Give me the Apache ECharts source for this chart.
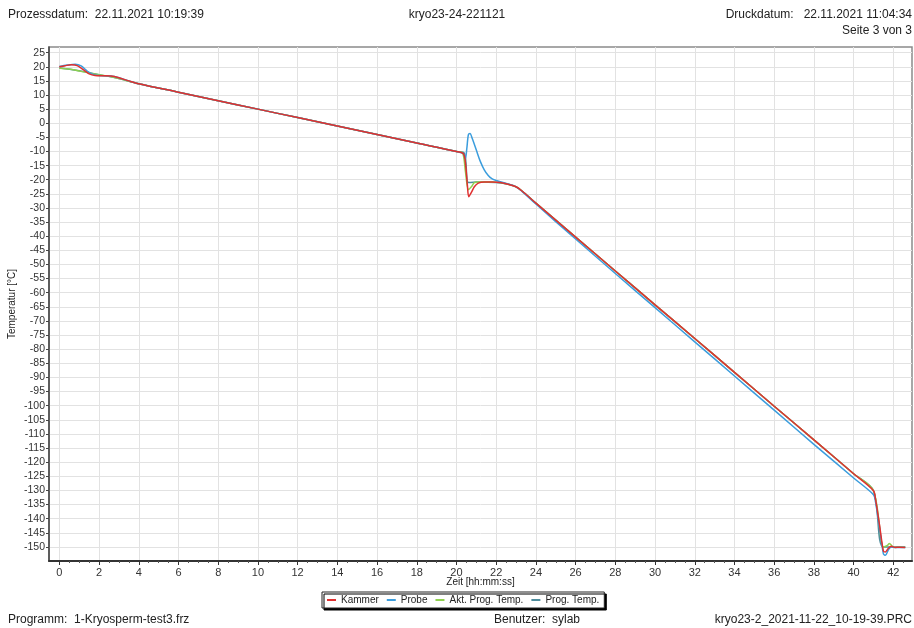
<!DOCTYPE html>
<html>
<head>
<meta charset="utf-8">
<script src="https://cdn.jsdelivr.net/npm/echarts@6/dist/echarts.min.js"></script>
<style>
  html, body { margin: 0; padding: 0; background: #fff; }
  #chart { width: 914px; height: 628px; }
</style>
</head>
<body>
<div id="chart"></div>
<script>
// Freezing protocol kryo23-24-221121: chamber, sample and program temperatures over time

const xTicks = [0, 2, 4, 6, 8, 10, 12, 14, 16, 18, 20, 22, 24, 26, 28, 30, 32, 34, 36, 38, 40, 42];
const yTicks = [25, 20, 15, 10, 5, 0, -5, -10, -15, -20, -25, -30, -35, -40, -45, -50, -55, -60, -65, -70,
  -75, -80, -85, -90, -95, -100, -105, -110, -115, -120, -125, -130, -135, -140, -145, -150];

// Kammer (chamber)
const kammerT = [0, 0.3, 0.6, 0.9, 1.2, 1.5, 1.8, 2.2, 2.6, 3.0, 3.5, 4, 6, 8, 10, 12, 14, 16, 18, 20,
  20.35, 20.45, 20.55, 20.62, 20.75, 20.9, 21.1, 21.4, 21.8, 22.2, 22.6, 23.0, 23.3, 24,
  26, 28, 30, 32, 34, 36, 38, 40, 41.0, 41.1, 41.3, 41.5, 41.6, 41.75, 41.9, 42.1, 42.3, 42.6];
const kammerV = [20.0, 20.4, 20.7, 20.4, 19.0, 17.5, 16.9, 16.8, 16.7, 16.1, 15.0, 14.0, 11.0, 8.0, 5.0, 2.0, -1.0, -4.0, -7.0, -10.0,
  -10.8, -14, -22, -26, -24.5, -22.5, -21.2, -20.8, -20.8, -21.0, -21.6, -22.5, -24, -28.3,
  -40.3, -52.3, -64.3, -76.2, -88.2, -100.2, -112.1, -124.1, -130.1, -133, -142, -151.5, -151.8, -150.5, -149.8, -150.2, -150.1, -150.2];

// Probe (sample)
const probeT = [0, 0.4, 0.8, 1.1, 1.4, 1.7, 2.0, 2.6, 3.0, 3.5, 4, 6, 8, 10, 12, 14, 16, 18, 20,
  20.35, 20.45, 20.52, 20.6, 20.68, 20.8, 21.0, 21.2, 21.4, 21.6, 21.8, 22.0, 22.3, 22.6, 23.0, 23.3, 24,
  26, 28, 30, 32, 34, 36, 38, 40, 41.0, 41.1, 41.3, 41.5, 41.6, 41.75, 41.9, 42.1, 42.6];
const probeV = [20.1, 20.6, 20.9, 20.3, 18.5, 17.3, 16.9, 16.7, 16.1, 15.0, 14.0, 11.0, 8.0, 5.0, 2.0, -1.0, -4.0, -7.0, -10.0,
  -10.8, -12.5, -9, -4, -3.6, -5.5, -9.5, -13.5, -16.5, -18.5, -19.7, -20.3, -20.9, -21.5, -22.5, -24.1, -28.6,
  -41.0, -53.2, -65.3, -77.4, -89.5, -101.6, -113.7, -125.6, -131.5, -134, -143, -152.5, -153, -151, -150, -150.2, -150.2];

// Akt. Prog. Temp. (current program temperature)
const aktT = [0, 0.5, 1, 1.5, 2, 2.5, 3, 4, 6, 8, 10, 12, 14, 16, 18, 20,
  20.3, 20.45, 20.6, 20.75, 20.9, 21.1, 21.4, 21.8, 22.2, 22.6, 23.0, 23.3, 24,
  26, 28, 30, 32, 34, 36, 38, 40, 41.0, 41.5, 41.7, 41.8, 42.0, 42.6];
const aktV = [19.5, 19.2, 18.5, 17.8, 17.2, 16.6, 15.8, 14.0, 11.0, 8.0, 5.0, 2.0, -1.0, -4.0, -7.0, -10.0,
  -10.4, -17, -23.5, -22.5, -21, -20.8, -20.8, -20.8, -21.0, -21.6, -22.5, -24, -28.3,
  -40.3, -52.3, -64.3, -76.2, -88.2, -100.2, -112.1, -124.1, -130.1, -150, -149.5, -148.8, -150, -150.1];

// Prog. Temp. (program set point)
const progT = [0, 1, 2, 3, 4, 6, 8, 10, 12, 14, 16, 18, 20, 20.4, 20.6, 21.0, 22.0, 23.0, 24,
  26, 28, 30, 32, 34, 36, 38, 40, 41.0, 41.5, 42.6];
const progV = [19.6, 18.6, 17.2, 15.8, 14.0, 11.0, 8.0, 5.0, 2.0, -1.0, -4.0, -7.0, -10.0, -10.6, -21, -20.8, -21.0, -22.5, -28.3,
  -40.3, -52.3, -64.3, -76.2, -88.2, -100.2, -112.1, -124.1, -130.1, -150, -150];

const zip = (t, v) => t.map((x, i) => [x, v[i]]);

const xMinor = [];
for (let i = 0; i <= 85; i++) { const v = i * 0.5; if (v % 2 !== 0) xMinor.push(v); }

const FONT = 'Liberation Sans, Arial, sans-serif';
const chart = echarts.init(document.getElementById('chart'), null, { renderer: 'canvas' });

const lineSeries = (name, color, data, z) => ({
  name, type: 'line', data, showSymbol: false, symbol: 'none', smooth: 0.3,
  lineStyle: { color, width: 1.5 }, itemStyle: { color }, z, animation: false
});

chart.setOption({
  animation: false,
  backgroundColor: '#fff',
  textStyle: { fontFamily: FONT },
  grid: {
    left: 49, right: 2, top: 47, bottom: 67, containLabel: false, outerBoundsMode: 'none',
    show: true, borderColor: '#8a8a8a', borderWidth: 1.5, backgroundColor: '#fff'
  },
  graphic: [
    { type: 'text', left: 8, top: 9, style: { text: 'Prozessdatum:  22.11.2021 10:19:39', font: '12px ' + FONT, fill: '#222' } },
    { type: 'text', left: 'center', top: 9, style: { text: 'kryo23-24-221121', font: '12px ' + FONT, fill: '#222' } },
    { type: 'text', right: 2, top: 9, style: { text: 'Druckdatum:   22.11.2021 11:04:34', font: '12px ' + FONT, fill: '#222' } },
    { type: 'text', right: 2, top: 25, style: { text: 'Seite 3 von 3', font: '12px ' + FONT, fill: '#222' } },
    { type: 'text', left: 8, top: 614, style: { text: 'Programm:  1-Kryosperm-test3.frz', font: '12px ' + FONT, fill: '#222' } },
    { type: 'text', left: 494, top: 614, style: { text: 'Benutzer:  sylab', font: '12px ' + FONT, fill: '#222' } },
    { type: 'text', right: 2, top: 614, style: { text: 'kryo23-2_2021-11-22_10-19-39.PRC', font: '12px ' + FONT, fill: '#222' } }
  ],
  legend: {
    data: ['Kammer', 'Probe', 'Akt. Prog. Temp.', 'Prog. Temp.'],
    left: 322, top: 592,
    icon: 'rect', itemWidth: 9, itemHeight: 2, itemGap: 8,
    padding: [3, 5],
    borderColor: '#222', borderWidth: 1, backgroundColor: '#fff',
    shadowColor: '#000', shadowOffsetX: 2, shadowOffsetY: 2, shadowBlur: 0,
    textStyle: { fontSize: 10, color: '#222', fontFamily: FONT }
  },
  xAxis: [
    {
      type: 'value', min: -0.52, max: 42.94, position: 'bottom',
      name: 'Zeit [hh:mm:ss]', nameLocation: 'middle', nameGap: 16, nameMoveOverlap: false,
      nameTextStyle: { fontSize: 10, color: '#222', fontFamily: FONT },
      axisLine: { show: true, onZero: false, lineStyle: { color: '#333', width: 2 } },
      axisTick: { show: true, customValues: xTicks, length: 4, lineStyle: { color: '#333' } },
      axisLabel: { customValues: xTicks, fontSize: 11, color: '#333', margin: 6, fontFamily: FONT },
      splitLine: { show: true, lineStyle: { color: '#e2e2e2', width: 1 } }
    },
    {
      type: 'value', min: -0.52, max: 42.94, position: 'bottom',
      axisLine: { show: false, onZero: false },
      axisTick: { show: true, customValues: xMinor, length: 2, lineStyle: { color: '#555' } },
      axisLabel: { show: false },
      splitLine: { show: false }
    }
  ],
  yAxis: {
    type: 'value', min: -155, max: 27,
    name: 'Temperatur [°C]', nameLocation: 'middle', nameGap: 32, nameMoveOverlap: false,
    nameTextStyle: { fontSize: 10, color: '#222', fontFamily: FONT },
    axisLine: { show: true, onZero: false, lineStyle: { color: '#444', width: 1.5 } },
    axisTick: { show: true, customValues: yTicks, length: 3, lineStyle: { color: '#444' } },
    axisLabel: { customValues: yTicks, fontSize: 10.5, color: '#333', margin: 4, fontFamily: FONT },
    splitLine: { show: true, lineStyle: { color: '#e2e2e2', width: 1 } }
  },
  series: [
    lineSeries('Prog. Temp.', '#4d8c9c', zip(progT, progV), 2),
    lineSeries('Akt. Prog. Temp.', '#8fd14f', zip(aktT, aktV), 3),
    lineSeries('Probe', '#3b9ddd', zip(probeT, probeV), 4),
    lineSeries('Kammer', '#e03030', zip(kammerT, kammerV), 5)
  ]
});
</script>
</body>
</html>
